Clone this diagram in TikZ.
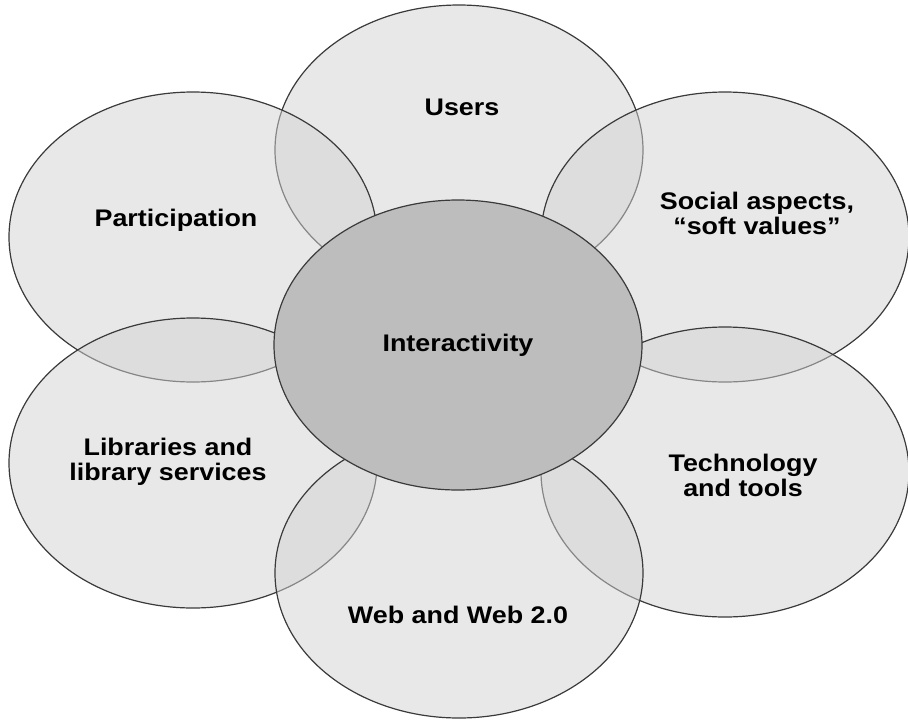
\documentclass[tikz,border=0pt]{standalone}
\usepackage{fontspec}
\setmainfont{Liberation Sans}[FakeStretch=1.12]
\usetikzlibrary{shapes.geometric}
\definecolor{cpetal}{HTML}{d2d2d2}
\definecolor{ccore}{HTML}{bdbdbd}
\definecolor{cline}{HTML}{3a3a3a}

\begin{document}
\begin{tikzpicture}[x=1pt, y=-1pt, every node/.style={font=\fontsize{24}{25}\selectfont\bfseries, align=center}, petal/.style={ellipse, draw=cline, line width=1.2pt, fill=cpetal, fill opacity=.5, minimum width=368pt, minimum height=290pt, inner sep=0pt}, core/.style={petal, fill=ccore, fill opacity=1}]
    \useasboundingbox (0,0) rectangle (908,723);
    % the six petals
    \node[petal] (users) at (459,150) {};
    \node[petal] (part) at (193,237) {};
    \node[petal] (social) at (725,237) {};
    \node[petal] (libs) at (193,463) {};
    \node[petal] (tech) at (725,472) {};
    \node[petal] (web) at (459,573) {};
    % centre on top
    \node[core] (inter) at (458,345) {Interactivity};
    % petal texts
    \node (tusers) at (462,107) {Users};
    \node (tpart) at (176,220) {Participation};
    \node (tsocial) at (757,213) {Social aspects,\\ ``soft values''};
    \node (tlibs) at (168,462) {Libraries and\\ library services};
    \node (ttech) at (743,475) {Technology\\ and tools};
    \node (tweb) at (458,615) {Web and Web 2.0};
  \end{tikzpicture}
\end{document}
